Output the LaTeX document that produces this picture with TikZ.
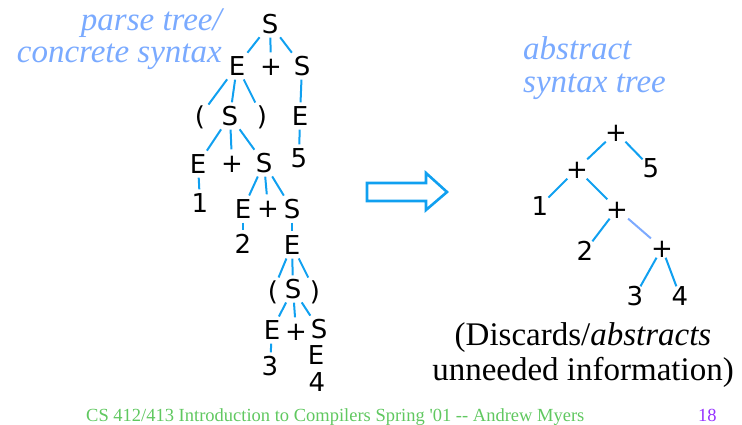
\documentclass[tikz,border=0pt]{standalone}
\usepackage{fontspec}
\setmainfont{Liberation Serif}
\newfontfamily\treefont{DejaVu Sans}
\definecolor{treeline}{RGB}{16,160,240}
\definecolor{softline}{RGB}{125,170,255}
\definecolor{caption}{RGB}{122,170,255}
\definecolor{footgreen}{RGB}{96,200,96}
\definecolor{footpurple}{RGB}{150,50,255}
\tikzset{
  sym/.style={font=\treefont\fontsize{26}{26}\selectfont, text height=19pt, text depth=0pt, inner sep=2pt},
  asym/.style={font=\treefont\fontsize{26}{26}\selectfont, text height=19pt, text depth=0pt, inner sep=0pt},
  edge/.style={draw=treeline, line width=2pt, shorten <=2pt, shorten >=2pt},
  aedge/.style={draw=treeline, line width=2pt},
  label/.style={font=\fontsize{33}{33}\selectfont\itshape, text=caption, inner sep=0pt},
  note/.style={font=\fontsize{33}{33}\selectfont, inner sep=0pt},
  foot/.style={font=\fontsize{18.5}{18.5}\selectfont, anchor=base west, inner sep=0pt},
}
\begin{document}
\begin{tikzpicture}[x=1pt,y=-1pt]
\useasboundingbox (0,0) rectangle (742,424);

% captions
\node[label, anchor=base east] (lparse) at (222,30) {parse tree/};
\node[label, anchor=base east] (lconc) at (222,62) {concrete syntax};
\node[label, anchor=base west] (labs) at (523,59) {abstract};
\node[label, anchor=base west] (lsyn) at (523,92) {syntax tree};

% parse tree
\node[sym] (s0) at (270,24) {S};
\node[sym] (e1) at (237,66) {E};
\node[sym] (p1) at (271,66) {+};
\node[sym] (s1) at (302,66) {S};
\node[sym] (l2) at (200,116) {(};
\node[sym] (s2) at (230,116) {S};
\node[sym] (r2) at (262,116) {)};
\node[sym] (e2) at (300,116) {E};
\node[sym] (e3) at (198,164) {E};
\node[sym] (p3) at (232,163) {+};
\node[sym] (s3) at (264,163) {S};
\node[sym] (f3) at (299,158) {5};
\node[sym] (one) at (200,203) {1};
\node[sym] (e4) at (243,209) {E};
\node[sym] (p4) at (268,208) {+};
\node[sym] (s4) at (292,209) {S};
\node[sym] (two) at (243,244) {2};
\node[sym] (e5) at (292,245) {E};
\node[sym] (l6) at (273,291) {(};
\node[sym] (s6) at (293,289) {S};
\node[sym] (r6) at (315,291) {)};
\node[sym] (e7) at (272,330) {E};
\node[sym] (p7) at (296,331) {+};
\node[sym] (s7) at (319,329) {S};
\node[sym] (three) at (270,366) {3};
\node[sym] (e8) at (316,355) {E};
\node[sym] (four) at (317,382) {4};

\draw[edge] (s0) -- (e1);
\draw[edge] (s0) -- (p1);
\draw[edge] (s0) -- (s1);
\draw[edge] (e1) -- (l2);
\draw[edge] (e1) -- (s2);
\draw[edge] (e1) -- (r2);
\draw[edge] (s1) -- (e2);
\draw[edge] (s2) -- (e3);
\draw[edge] (s2) -- (p3);
\draw[edge] (s2) -- (s3);
\draw[edge] (e2) -- (f3);
\draw[edge] (e3) -- (one);
\draw[edge] (s3) -- (e4);
\draw[edge] (s3) -- (p4);
\draw[edge] (s3) -- (s4);
\draw[edge] (e4) -- (two);
\draw[edge] (s4) -- (e5);
\draw[edge] (e5) -- (l6);
\draw[edge] (e5) -- (s6);
\draw[edge] (e5) -- (r6);
\draw[edge] (s6) -- (e7);
\draw[edge] (s6) -- (p7);
\draw[edge] (s6) -- (s7);
\draw[edge] (e7) -- (three);

% block arrow
\draw[draw=treeline, line width=2.6pt, line join=miter]
  (367,183) -- (426,183) -- (426,173) -- (447,192) -- (426,210) -- (426,201) -- (367,201) -- cycle;

% abstract syntax tree
\node[asym] (a0) at (616,132) {+};
\node[asym] (a5) at (651,168) {5};
\node[asym] (a1) at (577,169) {+};
\node[asym] (n1) at (540,206) {1};
\node[asym] (a2) at (617,209) {+};
\node[asym] (n2) at (585,251) {2};
\node[asym] (a3) at (662,248) {+};
\node[asym] (n3) at (635,296) {3};
\node[asym] (n4) at (680,296) {4};

\draw[aedge] (a0) -- (a1);
\draw[aedge] (a0) -- (a5);
\draw[aedge] (a1) -- (n1);
\draw[aedge] (a1) -- (a2);
\draw[aedge] (a2) -- (n2);
\draw[aedge, draw=softline] (a2) -- (a3);
\draw[aedge] (a3) -- (n3);
\draw[aedge] (a3) -- (n4);

% remark under the tree
\node[note, anchor=base] (rem1) at (583,345) {(Discards/\textit{abstracts}};
\node[note, anchor=base] (rem2) at (583,380) {unneeded information)};

% footer
\node[foot, text=footgreen] (footer) at (86,421)
  {CS 412/413 Introduction to Compilers Spring \textquotesingle01 -{}- Andrew Myers};
\node[foot, text=footpurple] (page) at (698,421) {18};
\end{tikzpicture}
\end{document}
